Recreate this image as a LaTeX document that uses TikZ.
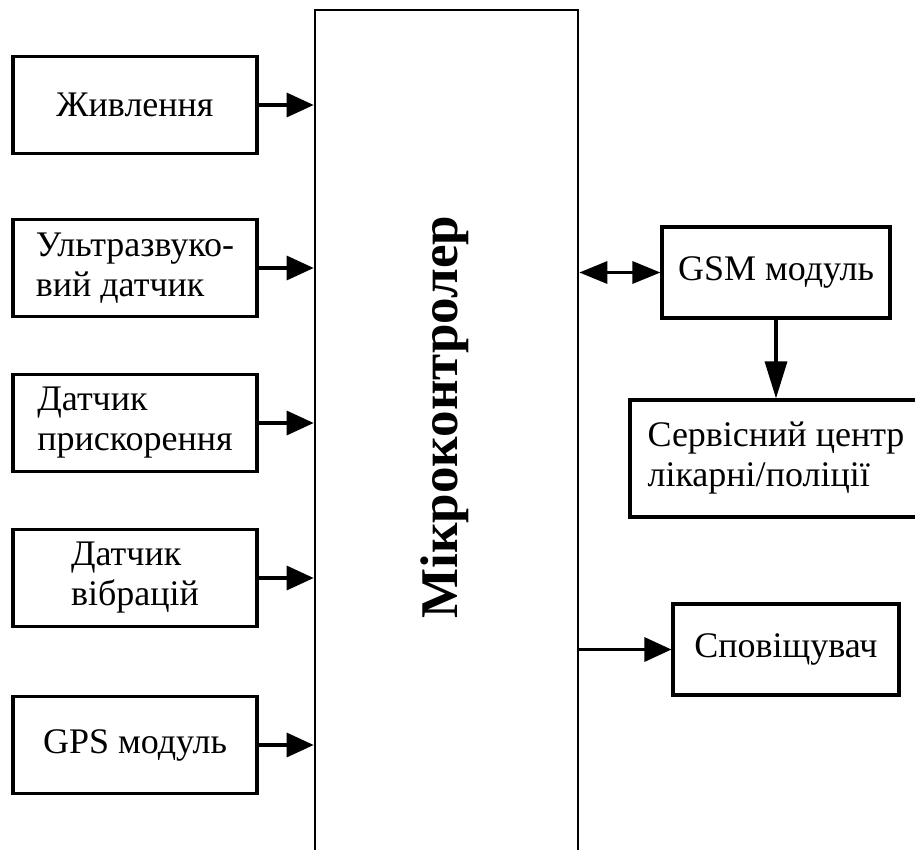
\documentclass[tikz,border=0pt]{standalone}
\usepackage{fontspec}
\setmainfont{Liberation Serif}
\usetikzlibrary{arrows.meta}
\tikzset{
  blk/.style={draw, line width=3.1pt, inner sep=0pt, align=left,
    font=\fontsize{36}{40}\selectfont},
  lbox/.style={blk, minimum width=244pt, minimum height=97pt},
  mcubox/.style={draw, line width=2.6pt, minimum width=263pt, minimum height=860pt, inner sep=0pt},
  conn/.style={line width=3.2pt, -{Triangle[length=27pt,width=24pt]}},
  dconn/.style={line width=3.2pt, {Triangle[length=28pt,width=22pt]}-{Triangle[length=28pt,width=22pt]}},
}
\begin{document}
\begin{tikzpicture}[x=1pt, y=-1pt]
\useasboundingbox (0,0) rectangle (915,849);
\fill[white] (0,0) rectangle (915,849);
\begin{scope}
\clip (0,0) rectangle (915,849);
\node[mcubox] (mcu) at (446.5,440) {};
\node[rotate=90, font=\fontsize{53}{60}\selectfont\bfseries] (mcutext) at (445,417) {Мікроконтролер};

\node[lbox] (pwr) at (135,105) {Живлення};
\node[lbox] (us) at (135,268) {Ультразвуко-\\вий датчик};
\node[lbox] (acc) at (135,423) {Датчик\\прискорення};
\node[lbox] (vib) at (135,578) {Датчик\\вібрацій};
\node[lbox] (gps) at (135,745) {GPS модуль};

\node[blk, minimum width=228pt, minimum height=91pt] (gsm) at (776,272.5) {GSM модуль};
\node[blk, minimum width=292pt, minimum height=117pt] (srv) at (776,458.5) {Сервісний центр\\лікарні/поліції};
\node[blk, minimum width=226pt, minimum height=91pt] (alarm) at (786,649.5) {Сповіщувач};
\end{scope}

\foreach \n in {pwr,us,acc,vib,gps}
  \draw[conn] (\n.east) -- (\n.east -| mcu.west);
\draw[dconn] (gsm.west -| mcu.east) -- (gsm.west);
\draw[line width=3.2pt, -{Triangle[length=37pt,width=22pt]}] (gsm.south) -- (srv.north);
\draw[conn] (alarm.west -| mcu.east) -- (alarm.west);
\end{tikzpicture}
\end{document}
